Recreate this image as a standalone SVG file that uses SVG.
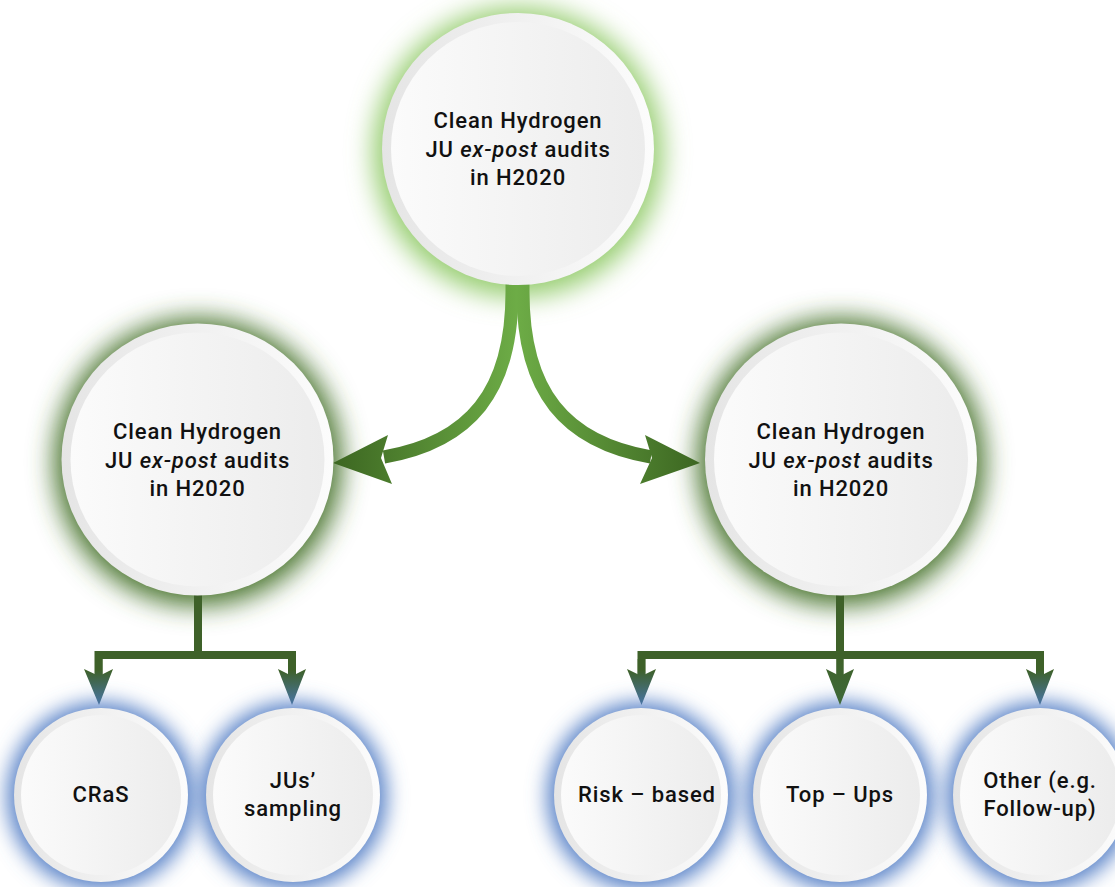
<svg xmlns="http://www.w3.org/2000/svg" width="1115" height="887" viewBox="0 0 1115 887">
  <defs>
    <style>
      .label { font-family: Roboto, "Liberation Sans", Arial, sans-serif; font-weight: 500; font-size: 22px; fill: #111; text-anchor: middle; letter-spacing: 0.9px; }
      .ring { fill: url(#ringGrad); }
      .disc { fill: url(#discGrad); }
      .halo-green { fill: #96cd70; filter: url(#halo); }
      .halo-olive { fill: #4a752e; filter: url(#halo); }
      .halo-blue { fill: #5a83c8; filter: url(#haloSmall); }
      .bar { fill: none; stroke: #3e6129; stroke-width: 8; stroke-linejoin: miter; }
    </style>
    <filter id="halo" x="-30%" y="-30%" width="160%" height="160%">
      <feGaussianBlur stdDeviation="13"/>
    </filter>
    <filter id="haloSmall" x="-30%" y="-30%" width="160%" height="160%">
      <feGaussianBlur stdDeviation="10"/>
    </filter>
    <linearGradient id="ringGrad" x1="0" y1="0" x2="1" y2="0">
      <stop offset="0" stop-color="#e5e5e5"/>
      <stop offset="1" stop-color="#fcfcfc"/>
    </linearGradient>
    <linearGradient id="discGrad" x1="0" y1="0" x2="1" y2="0">
      <stop offset="0" stop-color="#fbfbfb"/>
      <stop offset="1" stop-color="#ececec"/>
    </linearGradient>
    <!-- curved branches: light in the middle, dark toward the heads -->
    <linearGradient id="branchGrad" gradientUnits="userSpaceOnUse" x1="333" y1="0" x2="700" y2="0">
      <stop offset="0" stop-color="#3c6621"/>
      <stop offset="0.5" stop-color="#6dac46"/>
      <stop offset="1" stop-color="#3c6621"/>
    </linearGradient>
    <!-- drops: green turning steel blue at the tip -->
    <linearGradient id="dropBlue" gradientUnits="userSpaceOnUse" x1="0" y1="655" x2="0" y2="705">
      <stop offset="0" stop-color="#3e6129"/>
      <stop offset="0.3" stop-color="#3e6129"/>
      <stop offset="1" stop-color="#4874a6"/>
    </linearGradient>
    <linearGradient id="dropGreen" gradientUnits="userSpaceOnUse" x1="0" y1="655" x2="0" y2="705">
      <stop offset="0" stop-color="#3e6129"/>
      <stop offset="1" stop-color="#3f6a3a"/>
    </linearGradient>
  </defs>

  <!-- soft coloured halos behind the circles -->
  <g id="halos">
    <circle class="halo-green" cx="518" cy="152" r="145"/>
    <circle class="halo-olive" cx="198" cy="462" r="144"/>
    <circle class="halo-olive" cx="841" cy="462" r="144"/>
    <circle class="halo-blue" cx="101" cy="796" r="94"/>
    <circle class="halo-blue" cx="293" cy="796" r="94"/>
    <circle class="halo-blue" cx="641" cy="796" r="94"/>
    <circle class="halo-blue" cx="840" cy="796" r="94"/>
    <circle class="halo-blue" cx="1040" cy="796" r="94"/>
  </g>

  <g id="connectors">
    <!-- top node splitting into two curved arrows -->
    <g fill="url(#branchGrad)" stroke="none">
      <path d="M512 278 L512 292 C512 392 470 442 384 457" fill="none" stroke="url(#branchGrad)" stroke-width="13"/>
      <path d="M523 278 L523 292 C523 392 565 442 651 457" fill="none" stroke="url(#branchGrad)" stroke-width="13"/>
      <polygon points="333,463 388,435 381,458 392,484"/>
      <polygon points="700,463 645,435 652,458 640,484"/>
    </g>

    <!-- left branch: CRaS and JUs' sampling -->
    <polyline class="bar" points="198,594 198,655"/>
    <polyline class="bar" points="98.5,675 98.5,655 292,655 292,675"/>
    <g fill="url(#dropBlue)">
      <polygon points="99,705 84,669 99,676 113,669"/>
      <polygon points="292,705 278,669 292,676 306,669"/>
    </g>
    <rect x="95" y="659" width="7.5" height="18" fill="url(#dropBlue)"/>
    <rect x="288" y="659" width="7.5" height="18" fill="url(#dropBlue)"/>

    <!-- right branch: Risk-based, Top-Ups, Other -->
    <polyline class="bar" points="840,594 840,655"/>
    <polyline class="bar" points="641.5,675 641.5,655 1040,655 1040,675"/>
    <g fill="url(#dropBlue)">
      <polygon points="641.5,705 627,669 641.5,676 656,669"/>
      <polygon points="1040,705 1026,669 1040,676 1054,669"/>
    </g>
    <rect x="637.7" y="659" width="7.5" height="18" fill="url(#dropBlue)"/>
    <rect x="1036.2" y="659" width="7.5" height="18" fill="url(#dropBlue)"/>
    <rect x="836.2" y="655" width="7.5" height="22" fill="url(#dropGreen)"/>
    <polygon points="840,705 826,669 840,676 854,669" fill="url(#dropGreen)"/>
  </g>

  <g id="node-top">
    <circle class="ring" cx="518" cy="149" r="136"/>
    <circle class="disc" cx="518" cy="149" r="127"/>
    <text class="label" x="518" y="128">Clean Hydrogen</text>
    <text class="label" x="518" y="157">JU <tspan font-style="italic">ex-post</tspan> audits</text>
    <text class="label" x="518" y="185">in H2020</text>
  </g>

  <g id="node-mid-left">
    <circle class="ring" cx="197.5" cy="459.5" r="136"/>
    <circle class="disc" cx="197.5" cy="459.5" r="127"/>
    <text class="label" x="197.5" y="439">Clean Hydrogen</text>
    <text class="label" x="197.5" y="468">JU <tspan font-style="italic">ex-post</tspan> audits</text>
    <text class="label" x="197.5" y="496">in H2020</text>
  </g>

  <g id="node-mid-right">
    <circle class="ring" cx="841" cy="459.5" r="136"/>
    <circle class="disc" cx="841" cy="459.5" r="127"/>
    <text class="label" x="841" y="439">Clean Hydrogen</text>
    <text class="label" x="841" y="468">JU <tspan font-style="italic">ex-post</tspan> audits</text>
    <text class="label" x="841" y="496">in H2020</text>
  </g>

  <g id="node-cras">
    <circle class="ring" cx="101" cy="795" r="87"/>
    <circle class="disc" cx="101" cy="795" r="80"/>
    <text class="label" x="101" y="802">CRaS</text>
  </g>

  <g id="node-jus">
    <circle class="ring" cx="293" cy="795" r="87"/>
    <circle class="disc" cx="293" cy="795" r="80"/>
    <text class="label" x="293" y="788">JUs’</text>
    <text class="label" x="293" y="816">sampling</text>
  </g>

  <g id="node-risk">
    <circle class="ring" cx="641" cy="795" r="87"/>
    <circle class="disc" cx="641" cy="795" r="80"/>
    <text class="label" x="647" y="802">Risk – based</text>
  </g>

  <g id="node-topups">
    <circle class="ring" cx="840" cy="795" r="87"/>
    <circle class="disc" cx="840" cy="795" r="80"/>
    <text class="label" x="840" y="802">Top – Ups</text>
  </g>

  <g id="node-other">
    <circle class="ring" cx="1040" cy="795" r="87"/>
    <circle class="disc" cx="1040" cy="795" r="80"/>
    <text class="label" x="1040" y="788">Other (e.g.</text>
    <text class="label" x="1040" y="816">Follow-up)</text>
  </g>
</svg>
